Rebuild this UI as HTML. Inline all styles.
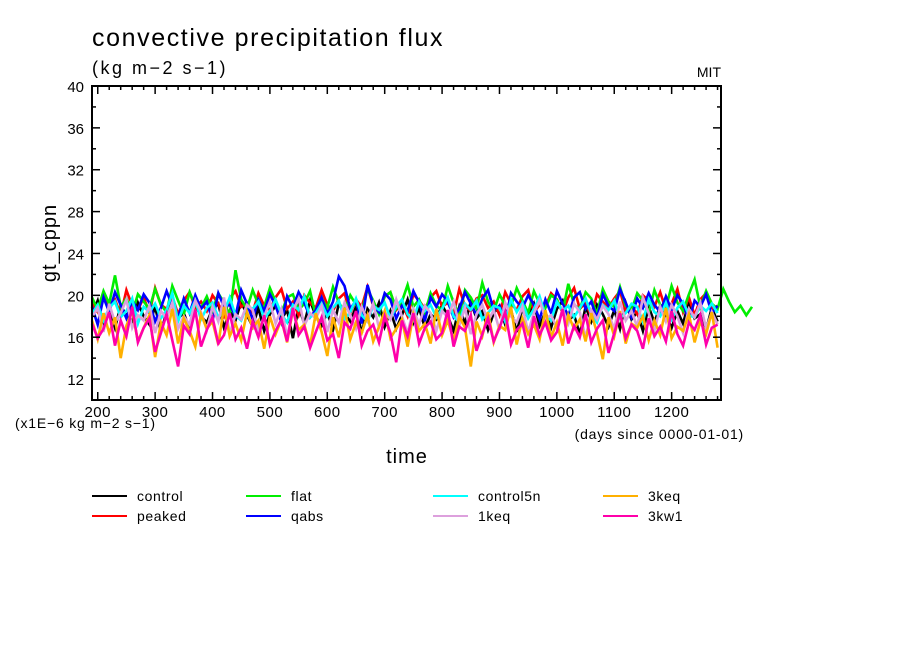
<!DOCTYPE html>
<html><head><meta charset="utf-8">
<style>
html,body{margin:0;padding:0;background:#fff;}
svg{display:block;font-family:"Liberation Sans","DejaVu Sans",sans-serif;}
</style></head>
<body>
<svg id="chart" width="904" height="654" viewBox="0 0 904 654" xmlns="http://www.w3.org/2000/svg">
<text x="92" y="46" font-size="25" letter-spacing="1.6">convective precipitation flux</text>
<text x="92" y="74" font-size="18" letter-spacing="2.5">(kg m−2 s−1)</text>
<text x="721" y="77" font-size="14" text-anchor="end">MIT</text>
<text transform="translate(56,243) rotate(-90)" font-size="20" text-anchor="middle" letter-spacing="1">gt_cppn</text>
<text x="407" y="463" font-size="20" text-anchor="middle" letter-spacing="1">time</text>
<text x="15" y="428" font-size="14" letter-spacing="0.8">(x1E−6 kg m−2 s−1)</text>
<text x="744" y="439" font-size="14" text-anchor="end" letter-spacing="0.8">(days since 0000-01-01)</text>
<g id="series"></g>
<g id="axes"></g>
<g id="legend"></g>
</svg>
<script>
const xTicks=[200,300,400,500,600,700,800,900,1000,1100,1200];
const yTicks=[12,16,20,24,28,32,36,40];
const startDay=190, stepDay=10;
const seriesNames=["control","peaked","flat","qabs","control5n","1keq","3keq","3kw1"];
const seriesColors=["#000000","#ff0000","#00ee00","#0000ff","#00ffff","#dda0dd","#ffb000","#ff00aa"];
const control=[18.2,19.5,17.1,18.8,16.9,19.0,18.1,17.5,19.3,18.0,17.2,18.9,16.5,18.4,19.6,17.8,18.3,16.8,19.1,18.0,17.4,18.7,19.2,16.9,18.5,17.6,19.4,18.1,17.0,18.8,16.6,18.2,19.0,17.7,18.6,15.9,18.9,17.3,19.5,18.0,17.1,18.4,16.7,19.2,18.3,17.5,18.9,16.4,18.7,17.9,19.3,17.0,18.5,16.8,18.1,19.6,17.4,18.8,16.9,18.2,17.7,19.1,18.0,16.6,18.9,17.3,19.4,17.8,18.5,16.7,18.3,19.0,17.2,18.6,16.5,18.8,17.9,19.2,17.1,18.4,16.9,18.7,19.5,17.6,18.1,16.3,18.9,17.5,19.1,18.2,17.0,18.6,16.8,19.3,17.7,18.4,16.6,18.9,17.4,19.0,18.1,16.9,18.5,17.3,19.4,17.8,18.2,16.7,18.8,17.5];
const peaked=[19.2,18.4,20.1,18.9,19.6,18.1,20.5,19.0,18.6,19.8,18.3,20.7,19.1,18.7,19.9,18.2,19.5,20.3,18.8,19.4,18.5,20.0,19.2,18.0,19.7,20.4,18.9,19.3,18.4,20.2,19.0,18.6,19.8,20.6,18.7,19.4,18.1,20.0,19.3,18.8,20.5,19.1,18.5,19.7,20.2,18.3,19.6,18.9,20.8,19.0,18.4,19.9,20.3,18.6,19.2,18.0,20.1,19.5,18.7,19.8,20.4,18.9,19.3,18.2,20.6,19.0,18.5,19.7,20.0,18.8,19.4,18.1,20.3,19.2,18.6,19.9,20.5,18.4,19.1,18.9,20.2,19.6,18.3,19.8,20.7,18.7,19.3,18.0,20.1,19.4,18.8,19.7,20.4,18.5,19.0,18.2,20.0,19.5,18.9,20.3,18.6,19.2,20.6,18.4,19.8,18.1,19.6,20.2,18.7,19.0];
const flat=[19.8,18.6,20.4,19.2,21.9,18.9,19.7,18.3,20.1,19.4,18.7,20.6,19.1,18.4,20.9,19.5,18.2,20.3,19.0,18.8,19.9,18.5,20.2,19.3,18.1,22.4,19.6,18.7,20.5,19.1,18.9,20.7,19.4,18.3,19.8,20.1,18.6,19.2,20.4,18.0,19.7,18.8,20.8,19.3,18.5,20.0,19.1,18.4,20.6,19.5,18.2,19.9,20.3,18.7,19.4,21.0,18.9,19.6,18.3,20.2,19.0,18.6,20.9,19.3,18.1,20.5,19.8,18.7,21.2,19.4,18.5,20.1,19.0,18.9,20.7,19.5,18.3,20.4,19.2,18.8,20.0,19.6,18.4,21.1,19.1,18.7,20.3,19.7,18.2,20.6,19.4,18.9,20.8,19.0,18.6,20.2,19.5,18.3,20.5,19.1,18.8,20.9,19.3,18.5,20.1,21.5,18.9,20.4,19.2,18.7,20.6,19.4,18.4,19.0,18.1,18.9];
const qabs=[18.9,17.2,19.8,18.4,20.3,19.1,17.8,19.5,18.6,20.1,19.3,17.5,18.8,20.4,19.0,17.9,19.7,18.3,20.0,18.7,19.4,17.6,20.2,18.9,19.1,18.0,20.5,19.2,17.7,19.6,18.5,20.1,19.0,17.4,19.9,18.8,20.3,19.3,17.9,18.6,19.8,18.2,19.4,21.8,20.9,18.7,19.5,17.3,21.0,19.1,18.4,20.2,19.6,17.8,19.0,18.5,20.4,19.3,17.6,19.8,18.9,20.1,19.4,17.9,18.7,20.3,19.2,18.1,19.7,20.5,18.6,19.0,17.5,20.2,19.4,18.8,20.0,19.1,17.7,19.6,18.3,20.4,19.2,18.0,19.8,20.3,18.7,19.4,17.8,20.1,19.0,18.5,20.6,19.3,17.9,19.7,18.8,20.2,19.1,18.4,19.9,18.6,20.0,19.2,17.6,19.5,18.9,20.1,18.3,19.0];
const control5n=[18.2,19.1,17.6,18.8,19.4,17.9,18.5,19.7,17.3,18.9,18.4,19.2,17.8,18.6,20.2,17.5,19.0,18.3,19.5,17.7,18.8,19.3,17.9,18.4,19.8,18.1,17.6,19.0,18.7,19.4,17.8,18.5,19.6,18.2,17.4,19.1,18.6,19.9,17.9,18.3,19.2,18.0,18.8,19.5,17.7,18.4,19.7,18.1,17.5,19.0,18.6,19.3,17.8,18.9,19.6,18.2,17.6,19.4,18.5,19.1,17.9,18.7,19.8,18.0,17.4,19.2,18.6,19.5,17.7,18.3,19.0,18.8,17.5,19.6,18.4,19.3,17.8,18.7,19.9,18.1,17.6,19.4,18.5,19.0,17.9,18.8,19.7,18.2,17.4,19.1,18.6,19.5,17.8,18.3,19.2,18.9,17.5,19.6,18.4,18.0,19.3,17.7,18.8,19.4,18.1,17.9,19.0,18.5,19.2,18.3];
const keq1=[17.9,18.8,16.5,19.2,17.4,18.3,19.6,16.9,18.1,17.6,19.0,16.4,18.5,17.8,19.3,16.8,18.0,17.2,19.5,18.4,16.7,18.9,17.5,19.8,16.3,18.2,17.7,19.1,18.6,16.6,18.0,19.4,17.3,18.7,16.1,18.5,19.7,17.1,18.3,17.8,19.0,16.5,18.6,17.4,19.3,18.1,16.8,18.9,17.6,19.2,16.9,18.4,17.7,19.6,18.0,16.4,18.7,17.2,19.0,18.3,16.6,18.5,17.9,19.4,17.1,18.8,16.3,18.2,19.1,17.5,18.6,16.7,19.3,18.0,17.4,18.9,16.5,18.3,19.5,17.8,18.1,16.9,18.7,17.3,19.2,18.4,15.9,18.6,17.7,19.0,18.2,16.8,19.4,17.6,18.5,17.0,19.8,18.3,16.6,18.9,17.5,19.1,18.0,16.4,18.7,17.9,19.3,16.8,18.4,17.2];
const keq3=[17.6,15.8,18.3,16.4,17.9,14.0,17.1,18.5,15.6,16.9,18.1,14.1,17.4,16.2,18.7,15.4,17.8,16.6,15.1,18.2,16.8,17.5,15.3,18.9,16.1,17.3,15.7,18.4,16.9,17.6,14.9,18.0,16.3,17.7,15.5,18.6,16.7,17.2,15.2,18.3,16.5,14.2,17.9,16.0,18.8,15.8,17.4,16.4,18.1,15.6,17.0,18.5,15.9,16.8,17.7,15.1,18.2,16.6,17.3,15.4,18.7,16.2,17.6,15.7,18.0,16.9,13.2,17.5,16.1,18.4,15.5,17.1,16.7,18.9,15.3,17.8,16.3,17.2,15.8,18.6,16.0,17.4,15.2,18.1,16.8,17.7,15.6,18.3,16.4,13.9,17.9,16.1,18.5,15.4,17.3,16.9,18.0,15.7,17.6,16.2,18.8,15.9,17.0,16.6,18.2,15.5,17.5,16.3,18.4,15.0];
const kw31=[17.3,15.9,16.8,18.4,15.2,17.6,16.1,18.9,15.5,16.9,17.8,14.6,16.4,18.2,15.7,13.2,17.1,16.3,18.6,15.1,16.7,17.9,15.4,16.2,18.3,15.8,16.9,14.9,17.5,16.0,18.1,15.3,16.6,17.7,15.6,18.8,16.2,17.0,15.0,16.5,17.9,15.7,16.3,14.0,17.4,16.8,18.5,15.2,16.6,17.2,15.5,18.0,16.4,13.6,17.6,16.1,18.3,15.4,16.9,17.5,15.8,16.4,18.6,15.1,17.0,16.6,18.1,14.7,16.3,17.8,15.6,16.9,18.4,15.3,16.7,17.3,15.0,18.0,16.2,17.4,15.7,16.5,18.7,15.4,17.1,16.0,18.2,15.5,16.8,17.6,14.5,16.4,18.3,15.9,17.2,16.6,14.9,17.8,16.1,17.0,15.6,18.5,16.3,15.2,17.4,16.7,18.1,15.3,16.9,17.2];
const seriesData=[control,peaked,flat,qabs,control5n,keq1,keq3,kw31];

const NS="http://www.w3.org/2000/svg";
const L=92,R=721,T=86,B=400,dMin=190,dMax=1286,vMin=10,vMax=40;
function xs(d){return L+(d-dMin)/(dMax-dMin)*(R-L);}
function ys(v){return B-(v-vMin)/(vMax-vMin)*(B-T);}
function mk(tag,attrs,parent){const e=document.createElementNS(NS,tag);for(const k in attrs)e.setAttribute(k,attrs[k]);parent.appendChild(e);return e;}

const sg=document.getElementById('series');
seriesData.forEach((arr,i)=>{
  const pts=arr.map((v,j)=>xs(startDay+j*stepDay).toFixed(1)+","+ys(v).toFixed(1)).join(" ");
  const p=mk('polyline',{points:pts,fill:'none',stroke:seriesColors[i],'stroke-width':2.6,'stroke-linejoin':'miter'},sg);
  
  
});

const ag=document.getElementById('axes');
const frame=mk('rect',{x:L,y:T,width:R-L,height:B-T,fill:'none',stroke:'#000','stroke-width':2},ag);


for(let d=200;d<=1280;d+=20){
  const x=xs(d),maj=(d%100===0),len=maj?8:4;
  mk('line',{x1:x,y1:B,x2:x,y2:B-len,stroke:'#000','stroke-width':1.5},ag);
  mk('line',{x1:x,y1:T,x2:x,y2:T+len,stroke:'#000','stroke-width':1.5},ag);
}
xTicks.forEach(d=>{
  const t=mk('text',{x:xs(d),y:417,'font-size':15,'text-anchor':'middle','letter-spacing':0.5},ag);
  t.textContent=d;
  
  
});
for(let v=12;v<=40;v+=2){
  const y=ys(v),maj=(v%4===0),len=maj?8:4;
  mk('line',{x1:L,y1:y,x2:L+len,y2:y,stroke:'#000','stroke-width':1.5},ag);
  mk('line',{x1:R,y1:y,x2:R-len,y2:y,stroke:'#000','stroke-width':1.5},ag);
}
yTicks.forEach(v=>{
  const t=mk('text',{x:84,y:ys(v)+6,'font-size':15,'text-anchor':'end'},ag);
  t.textContent=v;
  
  
});

const lg=document.getElementById('legend');
const colX=[92,246,433,603];
seriesNames.forEach((n,i)=>{
  const c=Math.floor(i/2),r=i%2,x=colX[c],y=496+r*20;
  const g=mk('g',{},lg);
  
  
  mk('line',{x1:x,y1:y,x2:x+35,y2:y,stroke:seriesColors[i],'stroke-width':2},g);
  const t=mk('text',{x:x+45,y:y+5,'font-size':14,'letter-spacing':0.6},g);
  t.textContent=n;
});
</script>
</body></html>
